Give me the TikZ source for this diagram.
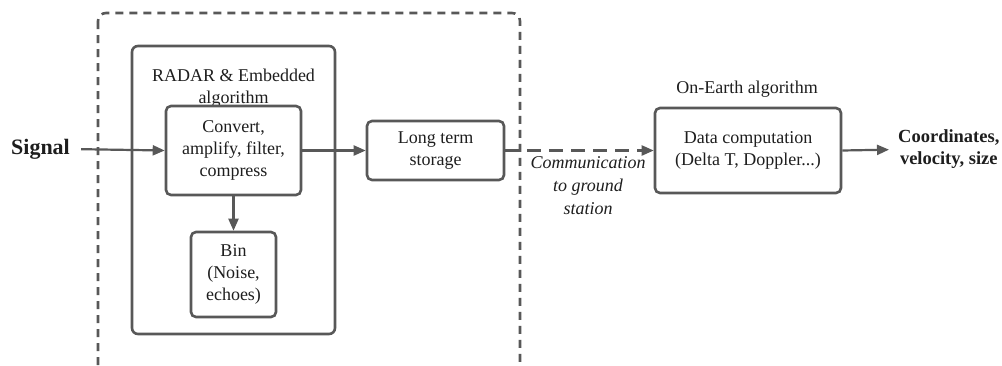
\documentclass[tikz,border=0pt]{standalone}
\usepackage{fontspec}
\setmainfont{Liberation Serif}
\usetikzlibrary{arrows.meta}
\definecolor{linegrey}{HTML}{585858}
\definecolor{textgrey}{HTML}{1E1E1E}
\tikzset{
  every node/.style={text=textgrey},
  txt/.style={font=\fontsize{18}{22}\selectfont, align=center, inner sep=0pt},
  procbox/.style={draw=linegrey, line width=2.6pt, rounded corners=5pt, txt},
  flow/.style={draw=linegrey, line width=2.2pt, -{Triangle[length=12pt,width=10pt]}},
  dashflow/.style={flow, dash pattern=on 14pt off 8pt},
  groupbox/.style={draw=linegrey, line width=2.6pt, rounded corners=6pt},
  dashgroup/.style={draw=linegrey, line width=2.6pt, rounded corners=8pt, dash pattern=on 8pt off 6pt},
}
\begin{document}
\begin{tikzpicture}[x=1pt,y=-1pt]
  \useasboundingbox (0,0) rectangle (1002,365);
  \clip (0,0) rectangle (1002,365);
  \fill[white] (0,0) rectangle (1002,365);

  % payload enclosure (dashed) and embedded processing group
  \draw[dashgroup] (98,13) rectangle (520,390);
  \draw[groupbox] (132,46) rectangle (335,334);
  \node[txt] (radarlbl) at (233.5,88) {RADAR \& Embedded\\algorithm};

  % processing blocks
  \node[procbox, minimum width=135pt, minimum height=89pt] (conv) at (233.5,150.5)
    {Convert,\\amplify, filter,\\compress};
  \node[procbox, minimum width=85pt, minimum height=85pt] (bin) at (233.5,274.5)
    {Bin\\(Noise,\\echoes)};
  \node[procbox, minimum width=137pt, minimum height=59pt] (store) at (435.5,150.5)
    {Long term\\storage};
  \node[procbox, minimum width=186pt, minimum height=85pt] (calc) at (748,150.5)
    {Data computation\\(Delta T, Doppler...)};
  \node[txt] (earthlbl) at (747,89) {On-Earth algorithm};

  % input and output
  \node[txt, font=\fontsize{22}{26}\selectfont\bfseries] (sig) at (40.5,149) {Signal};
  \node[txt, font=\fontsize{18.5}{22}\selectfont\bfseries, anchor=west] (out) at (898,149.5)
    {Coordinates,\\velocity, size};

  % connectors
  \draw[flow, shorten <=11pt] (sig.east) -- (conv.west);
  \draw[flow] (conv.east) -- (store.west);
  \draw[flow] (conv.south) -- (bin.north);
  \draw[dashflow] (store.east) -- (calc.west);
  \draw[flow, shorten >=9pt] (calc.east) -- (out.west);

  % downlink label
  \node[txt, font=\fontsize{18}{23}\selectfont\itshape] (link) at (588,186)
    {Communication\\to ground\\station};
\end{tikzpicture}
\end{document}
